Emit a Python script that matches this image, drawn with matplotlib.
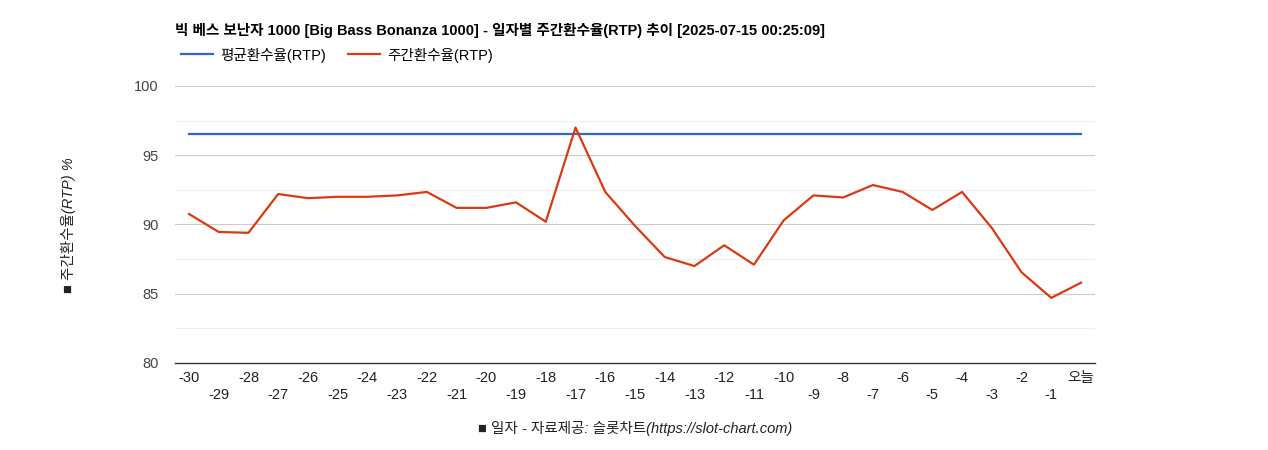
import matplotlib
matplotlib.use("Agg")
import matplotlib.pyplot as plt

plt.rcParams["font.family"] = ["Liberation Sans", "Noto Sans CJK JP", "Noto Sans CJK KR", "Noto Sans CJK SC", "DejaVu Sans"]

days = list(range(-30, 1))
labels = [str(d) for d in range(-30, 0)] + ["오늘"]
weekly = [90.76, 89.46, 89.4, 92.2, 91.9, 92.0, 92.0, 92.1, 92.35, 91.2, 91.2, 91.6, 90.2, 97.0,
          92.35, 89.9, 87.65, 87.0, 88.5, 87.1, 90.3, 92.1, 91.95, 92.85, 92.35, 91.05, 92.35,
          89.75, 86.55, 84.7, 85.8]
avg = [96.5] * len(days)

fig = plt.figure(figsize=(12.68, 4.5), dpi=100)
ax = fig.add_axes([175/1268, 1-363/450, 920/1268, 277/450])
ax.set_xlim(-30.47, 0.47)
ax.set_ylim(80, 100)
for y in [82.5, 87.5, 92.5, 97.5]:
    ax.axhline(y, color="#eeeeee", lw=0.8, zorder=0)
for y in [85, 90, 95, 100]:
    ax.axhline(y, color="#cccccc", lw=0.8, zorder=0)
ax.axhline(80, color="#333333", lw=1.0, clip_on=False, zorder=3)
l1, = ax.plot(days, avg, color="#3366cc", lw=1.6)
l2, = ax.plot(days, weekly, color="#dc3912", lw=1.6)
for s in ax.spines.values():
    s.set_visible(False)
ax.set_yticks([80, 85, 90, 95, 100])
ax.tick_params(axis="y", length=0, labelsize=10.5, colors="#444444", pad=12)
ax.set_xticks(days)
ax.set_xticklabels([l if i % 2 == 0 else "\n" + l for i, l in enumerate(labels)])
ax.tick_params(axis="x", length=0, labelsize=10.5, colors="#222222", pad=6)
fig.text(175/1268, 1-30/450, "빅 베스 보난자 1000 [Big Bass Bonanza 1000] - 일자별 주간환수율(RTP) 추이 [2025-07-15 00:25:09]",
         fontsize=10.5, fontweight="bold", va="center")
fig.legend([l1, l2], ["평균환수율(RTP)", "주간환수율(RTP)"], loc="center left",
           bbox_to_anchor=(168/1268, 1-55/450), ncol=2, frameon=False, fontsize=10.5,
           handlelength=2.2, columnspacing=1.5, handletextpad=0.5)
fig.text(635/1268, 1-428/450, "■ 일자 - 자료제공: 슬롯차트(https://slot-chart.com)", fontsize=10.5,
         style="italic", ha="center", va="center", color="#222222")
fig.text(68/1268, 1-225/450, "■ 주간환수율(RTP) %", fontsize=10.5, style="italic", rotation=90,
         ha="center", va="center", color="#222222")
fig.savefig("out.png", dpi=100)
